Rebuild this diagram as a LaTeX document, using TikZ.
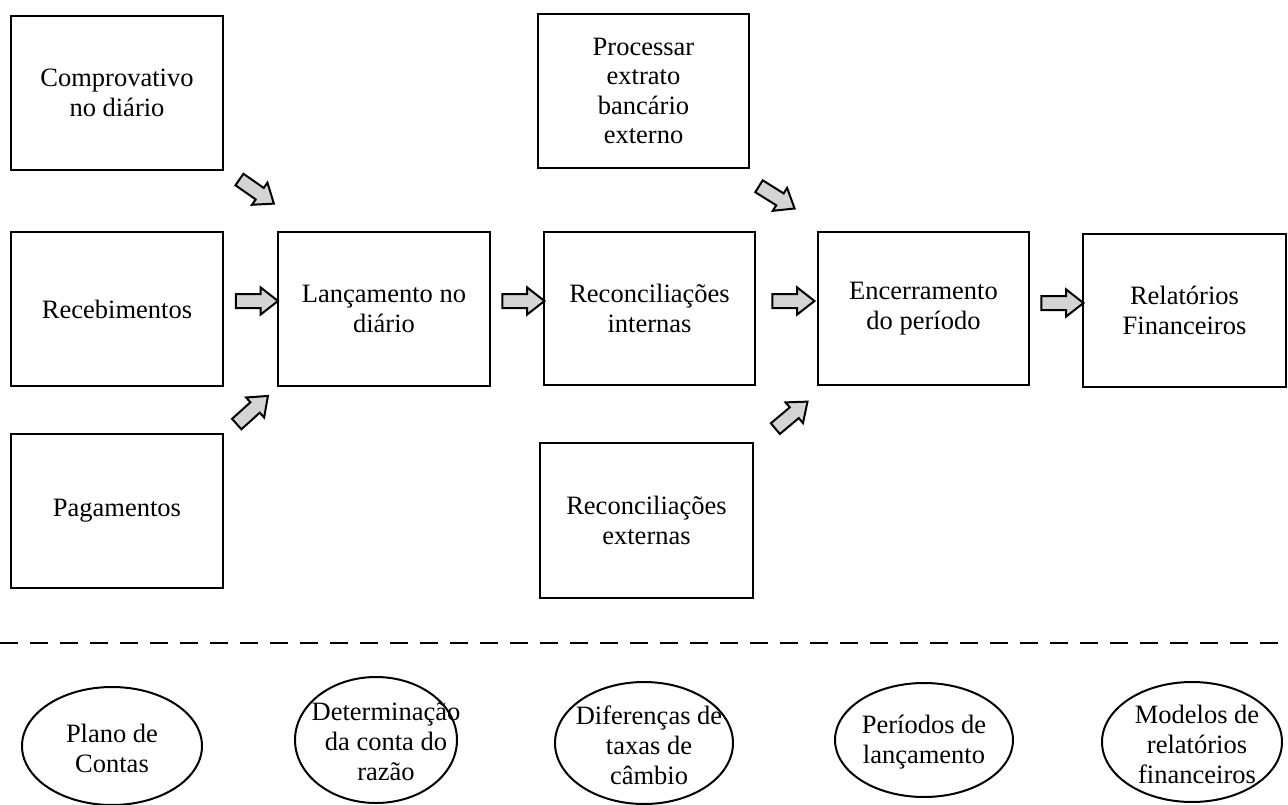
\documentclass[tikz,border=0pt]{standalone}
\usepackage{fontspec}
\setmainfont{Liberation Serif}
\usetikzlibrary{shapes.arrows,shapes.geometric,calc}
\begin{document}
\begin{tikzpicture}[x=1pt,y=-1pt,
  box/.style={draw=black,line width=2pt,rectangle,minimum width=212pt,minimum height=154pt,inner sep=0pt,align=center,font=\fontsize{26.5}{29.5}\selectfont},
  oval/.style={draw=black,line width=2pt,ellipse,inner sep=0pt},
  ovaltext/.style={align=center,inner sep=0pt,font=\fontsize{26.5}{30}\selectfont},
  barrow/.style={draw=black,line width=2pt,fill=black!17,single arrow,minimum height=42pt,inner xsep=0pt,inner ysep=6pt,single arrow head extend=6.5pt,single arrow tip angle=76,single arrow head indent=0pt},
  sep/.style={line width=2pt,dash pattern=on 18pt off 12pt}
]
\useasboundingbox (0,0) rectangle (1288,805);
% boxes
\node[box] (comp) at (117,93) {Comprovativo\\no diário};
\node[box] (receb) at (117,309) {Recebimentos};
\node[box] (pag) at (117,511) {Pagamentos};
\node[box] (lanc) at (384,309) {Lançamento no\\diário};
\node[box,minimum width=211pt] (proc) at (643.5,91) {Processar\\extrato\\bancário\\externo};
\node[box,minimum width=211pt,minimum height=153pt] (rint) at (649.5,308.5) {Reconciliações\\internas};
\node[box,minimum width=213pt,minimum height=155pt] (rext) at (646.5,520.5) {Reconciliações\\externas};
\node[box,minimum width=211pt,minimum height=153pt] (enc) at (923.5,308.5) {Encerramento\\do período};
\node[box,minimum width=203pt,minimum height=153pt] (rel) at (1184.5,310.5) {Relatórios\\Financeiros};
% block arrows
\node[barrow] (a1) at (252.5,301) {};
\node[barrow] (a2) at (519,301) {};
\node[barrow] (a3) at (789,301) {};
\node[barrow] (a4) at (1058,303) {};
\node[barrow,rotate=-35] (a5) at (253,189) {};
\node[barrow,rotate=42] (a6) at (249,413) {};
\node[barrow,rotate=-32] (a7) at (773,195) {};
\node[barrow,rotate=40] (a8) at (788,418) {};
% separator
\coordinate (sl) at (0,643);
\coordinate (sr) at (1288,643);
\draw[sep] (sl) -- (sr);
% ellipses
\node[oval,minimum width=180pt,minimum height=118pt] (e1) at (112,746) {};
\node[ovaltext] (t1) at (112,748) {Plano de\\Contas};
\node[oval,minimum width=162pt,minimum height=126pt] (e2) at (376,740) {};
\node[ovaltext] (t2) at (386,742) {Determinação\\da conta do\\razão};
\node[oval,minimum width=178pt,minimum height=122pt] (e3) at (644,743) {};
\node[ovaltext] (t3) at (649,745) {Diferenças de\\taxas de\\câmbio};
\node[oval,minimum width=178pt,minimum height=114pt] (e4) at (924,740) {};
\node[ovaltext] (t4) at (924,742) {Períodos de\\lançamento};
\node[oval,minimum width=180pt,minimum height=120pt] (e5) at (1192,742) {};
\node[ovaltext] (t5) at (1197,744) {Modelos de\\relatórios\\financeiros};
\end{tikzpicture}
\end{document}
